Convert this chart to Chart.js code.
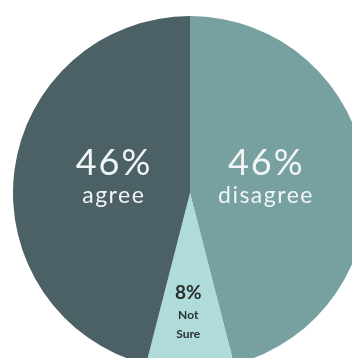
<!DOCTYPE html>
<html>
<head>
<meta charset="utf-8">
<script src="https://cdn.jsdelivr.net/npm/chart.js@4/dist/chart.umd.min.js"></script>
<style>
	html, body { margin: 0; padding: 0; background: #fff; overflow: hidden; width: 352px; height: 358px; }
	#PieChart { position: absolute; left: 13px; top: 16px; }
</style>
</head>
<body>
<canvas id="PieChart" width="354" height="354"></canvas>
<script>
// clockwise from 12 o'clock
const categories = ["disagree", "Not Sure", "agree"];
const shares = [46, 8, 46];
const colors = ["#77a0a0", "#afdbdb", "#4b6166"];

// where each label block sits, as fractions of the radius from the centre
const label_spots = [
	{ dx: 0.425, dy: -0.17, big: 36, small: 23, gap: 33, step: 24, spacing: [2, 1.5], color: "#f2f5f5", weight: "400" },
	{ dx: -0.01, dy: 0.565, big: 19, small: 12, gap: 22, step: 19, spacing: [0, 0], color: "#2a2f30", weight: "700" },
	{ dx: -0.435, dy: -0.17, big: 36, small: 23, gap: 33, step: 24, spacing: [2, 1.5], color: "#f2f5f5", weight: "400" }
];

const slice_labels = {
	id: "slice_labels",
	afterDatasetsDraw(chart) {
		const ctx = chart.ctx;
		const arcs = chart.getDatasetMeta(0).data;
		arcs.forEach((arc, i) => {
			const spot = label_spots[i];
			const r = arc.outerRadius;
			const x = arc.x + spot.dx * r;
			const y = arc.y + spot.dy * r;
			ctx.save();
			ctx.fillStyle = spot.color;
			ctx.textAlign = "center";
			ctx.textBaseline = "middle";
			ctx.letterSpacing = spot.spacing[0] + "px";
			ctx.font = spot.weight + " " + spot.big + "px Lato, 'Open Sans', sans-serif";
			ctx.fillText(shares[i] + "%", x + spot.spacing[0] / 2, y);
			ctx.letterSpacing = spot.spacing[1] + "px";
			ctx.font = spot.weight + " " + spot.small + "px Lato, 'Open Sans', sans-serif";
			const words = i === 1 ? categories[i].split(" ") : [categories[i]];
			let line_y = y + spot.gap;
			for (const word of words) {
				ctx.fillText(word, x + spot.spacing[1] / 2, line_y);
				line_y += spot.step;
			}
			ctx.restore();
		});
	}
};

const context = document.getElementById("PieChart").getContext("2d");
const chart = new Chart(context, {
	type: "pie",
	data: {
		labels: categories,
		datasets: [{
			data: shares,
			backgroundColor: colors,
			borderWidth: 0
		}]
	},
	options: {
		responsive: false,
		animation: false,
		plugins: {
			legend: { display: false },
			tooltip: { enabled: false }
		}
	},
	plugins: [slice_labels]
});
</script>
</body>
</html>
